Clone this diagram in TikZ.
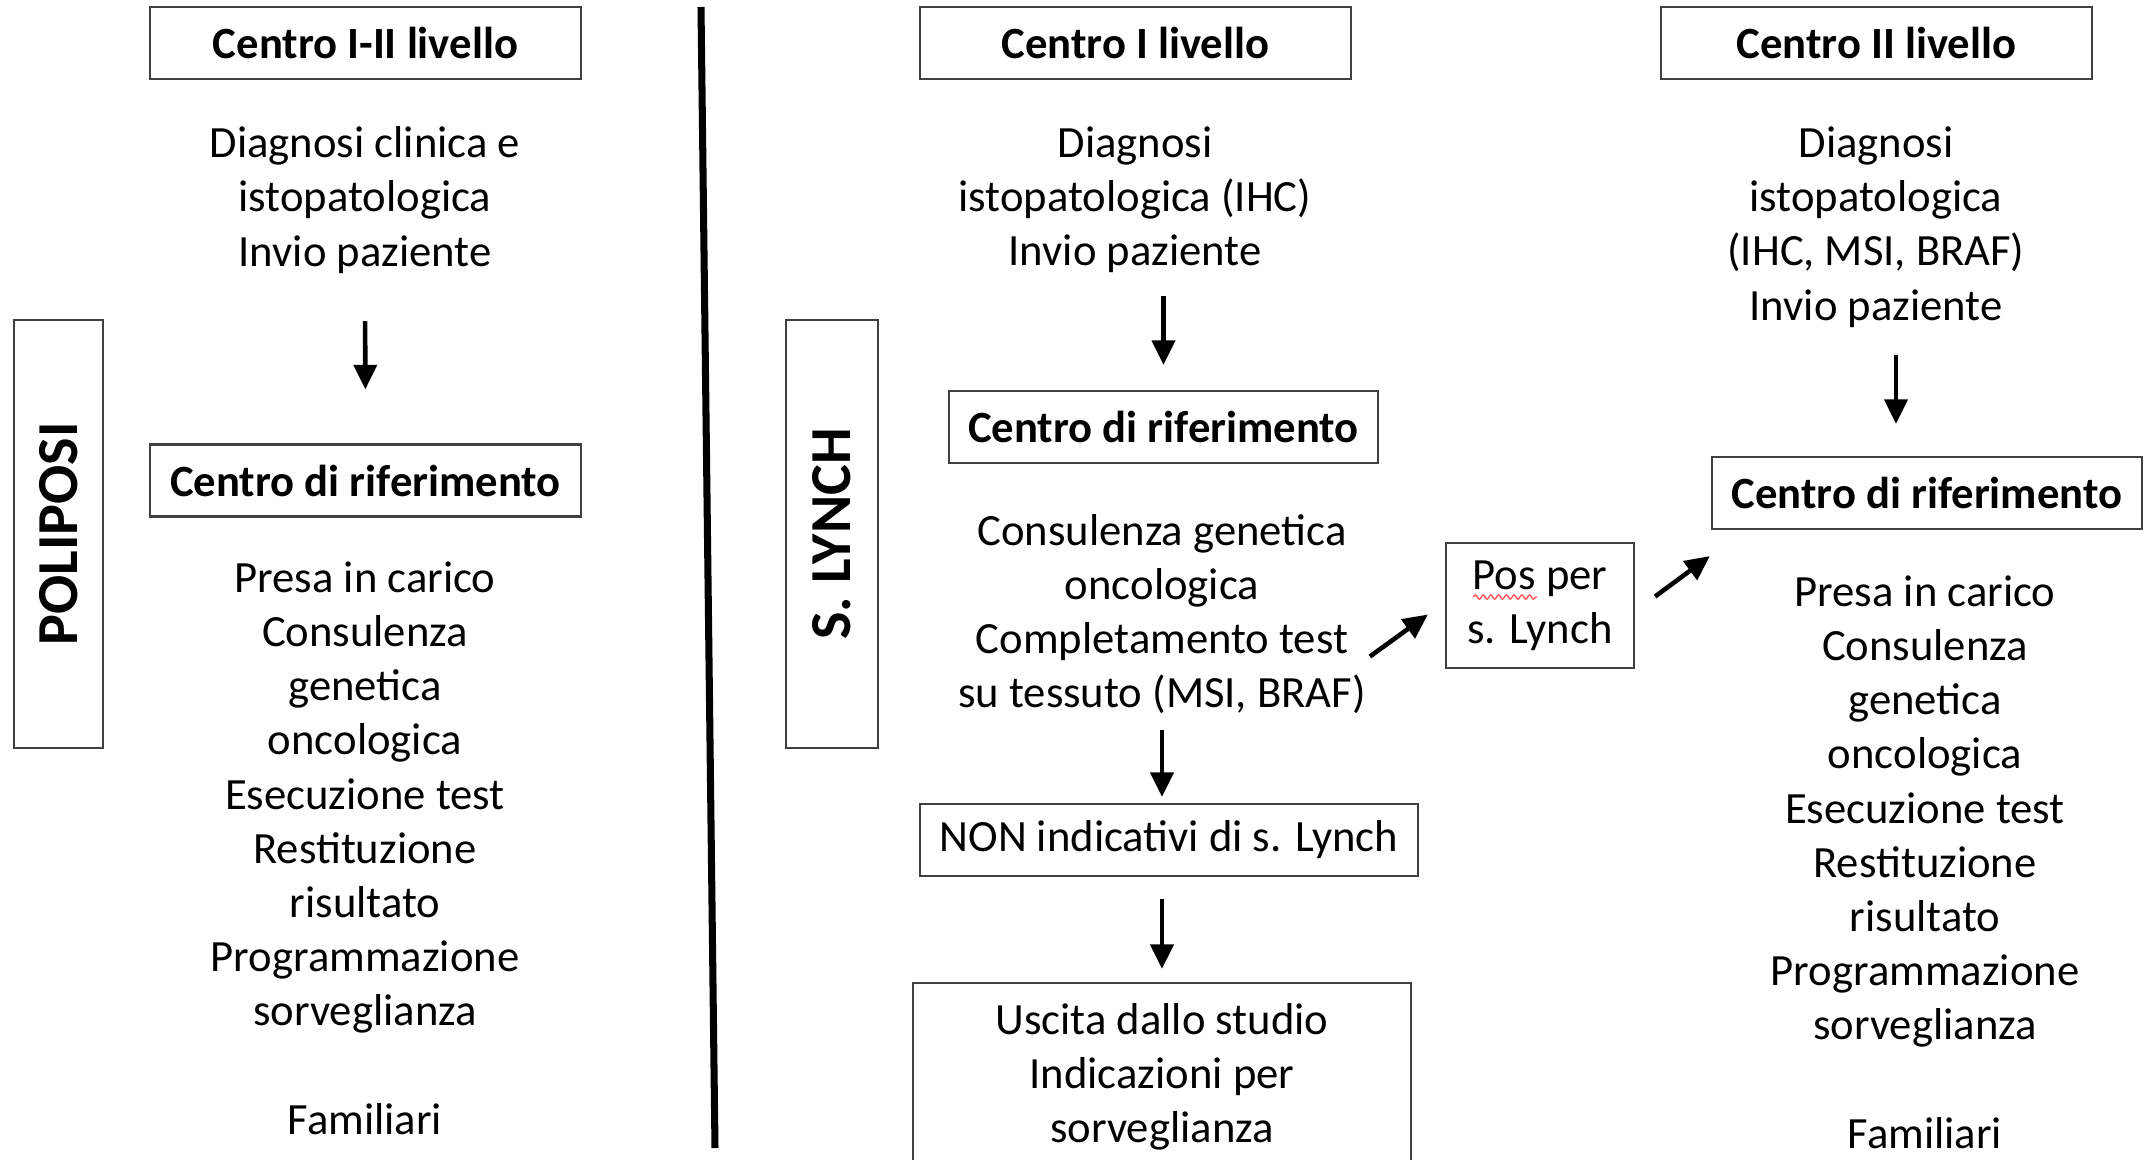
\documentclass[tikz,border=0pt]{standalone}
\usepackage{fontspec}
\setmainfont{Carlito}
\usetikzlibrary{arrows.meta}
\usetikzlibrary{positioning}
\usetikzlibrary{calc}
\usetikzlibrary{decorations.pathmorphing}

\tikzset{
  txt/.style={align=center, inner sep=0pt, font=\fontsize{12.7}{15.4}\selectfont},
  box/.style={txt, draw=black!75, line width=0.6pt},
  head/.style={box, font=\fontsize{12.7}{15.4}\selectfont\bfseries, minimum width=4.31cm, minimum height=0.72cm},
  side/.style={box, font=\fontsize{16.5}{20}\selectfont\bfseries, rotate=90, minimum width=4.28cm},
  arr/.style={-{Triangle[length=7pt,width=6.5pt]}, line width=1.3pt},
}

\begin{document}
\begin{tikzpicture}[x=0.01cm, y=-0.01cm]
  \useasboundingbox (0,0) rectangle (2144,1159);

  % poliposi
  \node[side, minimum height=0.89cm] (pol) at (58.5,534) {POLIPOSI};
  \node[head] (h1) at (365.5,43) {Centro I-II livello};
  \node[txt] (t1) at (365,200) {Diagnosi clinica e\\istopatologica\\Invio paziente};
  \node[head] (r1) at (365.5,480.5) {Centro di riferimento};
  \node[txt] (t2) at (365,848) {Presa in carico\\Consulenza\\genetica\\oncologica\\Esecuzione test\\Restituzione\\risultato\\Programmazione\\sorveglianza\\[15.4pt]Familiari};

  \draw[arr, shorten <=0.47cm, shorten >=0.54cm] (t1.south) -- (r1.north);

  % divider
  \draw[line width=2pt] (701,7) -- (715,1148);

  % lynch, centro I livello
  \node[side, minimum height=0.92cm] (lyn) at (832,534) {S. LYNCH};
  \node[head] (h2) at (1135.5,43) {Centro I livello};
  \node[txt] (t3) at (1135,200) {Diagnosi\\istopatologica (IHC)\\Invio paziente};
  \node[head, minimum width=4.29cm] (r2) at (1163.5,427) {Centro di riferimento};
  \node[txt] (t4) at (1162,614) {Consulenza genetica\\oncologica\\Completamento test\\su tessuto (MSI, BRAF)};
  \node[box, minimum width=4.98cm, minimum height=0.72cm] (non) at (1169,840) {NON indicativi di s. Lynch};
  \node[box, anchor=north, minimum width=4.98cm, inner ysep=0.2cm] (usc) at (1162,982) {Uscita dallo studio\\Indicazioni per\\sorveglianza};

  \draw[arr, shorten <=0.22cm, shorten >=0.25cm] (t3.south -| r2.north) -- (r2.north);
  \draw[arr, shorten <=0.15cm, shorten >=0.06cm] (t4.south) -- (t4.south |- non.north);
  \draw[arr, shorten <=0.22cm, shorten >=0.13cm] (non.south -| usc.north) -- (usc.north);

  % centro II livello
  \node[head] (h3) at (1876.5,43) {Centro II livello};
  \node[txt] (t5) at (1876,227) {Diagnosi\\istopatologica\\(IHC, MSI, BRAF)\\Invio paziente};
  \node[head, minimum width=4.30cm] (r3) at (1927,493) {Centro di riferimento};
  \node[txt] (t6) at (1925,862) {Presa in carico\\Consulenza\\genetica\\oncologica\\Esecuzione test\\Restituzione\\risultato\\Programmazione\\sorveglianza\\[15.4pt]Familiari};

  \draw[arr, shorten <=0.27cm, shorten >=0.32cm] ([xshift=0.2cm]t5.south) -- ([xshift=0.2cm]t5.south |- r3.north);

  % positivi
  \node[box, minimum width=1.88cm, minimum height=1.25cm] (pos) at (1540,605.5) {Pos per\\s. Lynch};
  \draw[red!65, line width=0.4pt, decorate, decoration={snake, segment length=2.2pt, amplitude=0.6pt}] (1473,597) -- (1537,597);

  \draw[arr] ($(pos.west)+(-75,51)$) -- ($(pos.west)+(-17,9)$);
  \draw[arr] ($(pos.east)+(20,-9)$) -- ($(r3.south west)+(-1,26)$);
\end{tikzpicture}
\end{document}
